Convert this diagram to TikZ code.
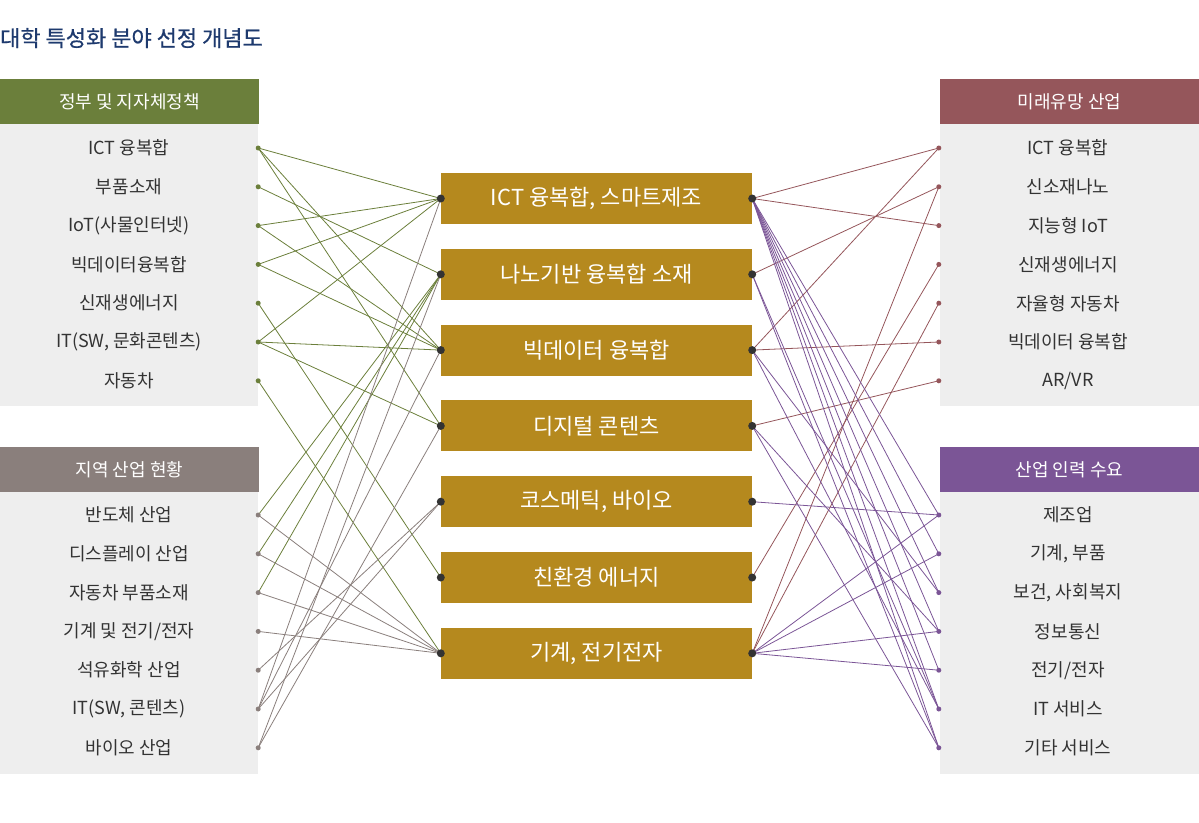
\documentclass[tikz,border=0pt]{standalone}
\usepackage{fontspec}
\setmainfont{Noto Sans CJK KR}
\newfontfamily\titlefont[FakeBold=0.6]{Noto Sans CJK KR}
\usepackage{tikz}

\definecolor{polgreen}{HTML}{6B7F3B}
\definecolor{indgrey}{HTML}{8A7F7C}
\definecolor{futred}{HTML}{95565B}
\definecolor{demviolet}{HTML}{7B5596}
\definecolor{boxgold}{HTML}{B5891E}
\definecolor{panelgrey}{HTML}{EEEEEE}
\definecolor{titlenavy}{HTML}{1E3A6E}

\begin{document}
\begin{tikzpicture}[x=1pt,y=-1pt,
  head/.style={fill=#1,text=white,minimum width=259pt,minimum height=45pt,inner sep=0pt,font=\fontsize{18}{20}\selectfont},
  item/.style={minimum width=258pt,inner sep=0pt,text=black!80,font=\fontsize{18}{20}\selectfont},
  field/.style={fill=boxgold,text=white,minimum width=311pt,minimum height=51pt,inner sep=0pt,font=\fontsize{22}{24}\selectfont},
  link/.style={draw=#1,line width=0.8pt},
  enddot/.style={fill=#1,circle,inner sep=0pt,minimum size=5pt},
  hub/.style={fill=black!80,circle,inner sep=0pt,minimum size=8pt}]
\useasboundingbox (0,0) rectangle (1199,822);

% title
\node[anchor=west,inner sep=0pt,text=titlenavy,font=\titlefont\fontsize{22}{26}\selectfont] (title) at (0,38) {대학 특성화 분야 선정 개념도};

% side panels
\fill[panelgrey] (0,124) rectangle (258,406);
\fill[panelgrey] (0,492) rectangle (258,774);
\fill[panelgrey] (940,124) rectangle (1199,406);
\fill[panelgrey] (940,492) rectangle (1199,774);
\node[head=polgreen] (hpol) at (129.5,101.5) {정부 및 지자체정책};
\node[head=indgrey] (hind) at (129.5,469.5) {지역 산업 현황};
\node[head=futred] (hfut) at (1069.5,101.5) {미래유망 산업};
\node[head=demviolet] (hdem) at (1069.5,469.5) {산업 인력 수요};

% items
\foreach \t [count=\i] in {ICT 융복합, 부품소재, IoT(사물인터넷), 빅데이터융복합, 신재생에너지, {IT(SW, 문화콘텐츠)}, 자동차}
  \node[item] (l\i) at (129,{148+38.8*(\i-1)}) {\t};
\foreach \t [count=\i] in {반도체 산업, 디스플레이 산업, 자동차 부품소재, 기계 및 전기/전자, 석유화학 산업, {IT(SW, 콘텐츠)}, 바이오 산업}
  \node[item] (g\i) at (129,{515+38.8*(\i-1)}) {\t};
\foreach \t [count=\i] in {ICT 융복합, 신소재나노, 지능형 IoT, 신재생에너지, 자율형 자동차, 빅데이터 융복합, AR/VR}
  \node[item] (r\i) at (1068,{148+38.8*(\i-1)}) {\t};
\foreach \t [count=\i] in {제조업, {기계, 부품}, {보건, 사회복지}, 정보통신, 전기/전자, IT 서비스, 기타 서비스}
  \node[item] (s\i) at (1068,{515+38.8*(\i-1)}) {\t};

% center fields
\foreach \t [count=\i] in {{ICT 융복합, 스마트제조}, 나노기반 융복합 소재, 빅데이터 융복합, 디지털 콘텐츠, {코스메틱, 바이오}, 친환경 에너지, {기계, 전기전자}}
  \node[field] (c\i) at (596.5,{198.5+75.8*(\i-1)}) {\t};

% links, left
\foreach \a/\b in {l1/c1, l1/c3, l1/c4, l2/c2, l3/c1, l3/c3, l4/c1, l4/c3, l5/c6, l6/c1, l6/c3, l6/c4, l7/c7, g1/c2, g2/c2, g3/c2}
  \draw[link=polgreen] (\a.east) -- (\b.west);
\foreach \a/\b in {g1/c7, g2/c7, g3/c7, g4/c7, g5/c5, g6/c1, g6/c3, g6/c5, g7/c2, g7/c4}
  \draw[link=indgrey] (\a.east) -- (\b.west);

% links, right
\foreach \a/\b in {c1/r1, c1/r3, c2/r2, c3/r1, c3/r6, c4/r7, c6/r4, c7/r2, c7/r5}
  \draw[link=futred] (\a.east) -- (\b.west);
\foreach \a/\b in {c1/s1, c1/s2, c1/s3, c1/s4, c1/s5, c1/s6, c1/s7, c2/s6, c2/s7, c3/s3, c3/s6, c4/s4, c4/s7, c5/s1, c7/s1, c7/s2, c7/s4, c7/s5}
  \draw[link=demviolet] (\a.east) -- (\b.west);

% dots
\foreach \i in {1,...,7} {
  \node[enddot=polgreen] (dl\i) at (l\i.east) {};
  \node[enddot=indgrey] (dg\i) at (g\i.east) {};
  \node[enddot=futred] (dr\i) at (r\i.west) {};
  \node[enddot=demviolet] (ds\i) at (s\i.west) {};
  \node[hub] (hw\i) at (c\i.west) {};
  \node[hub] (he\i) at (c\i.east) {};
}
\end{tikzpicture}
\end{document}
